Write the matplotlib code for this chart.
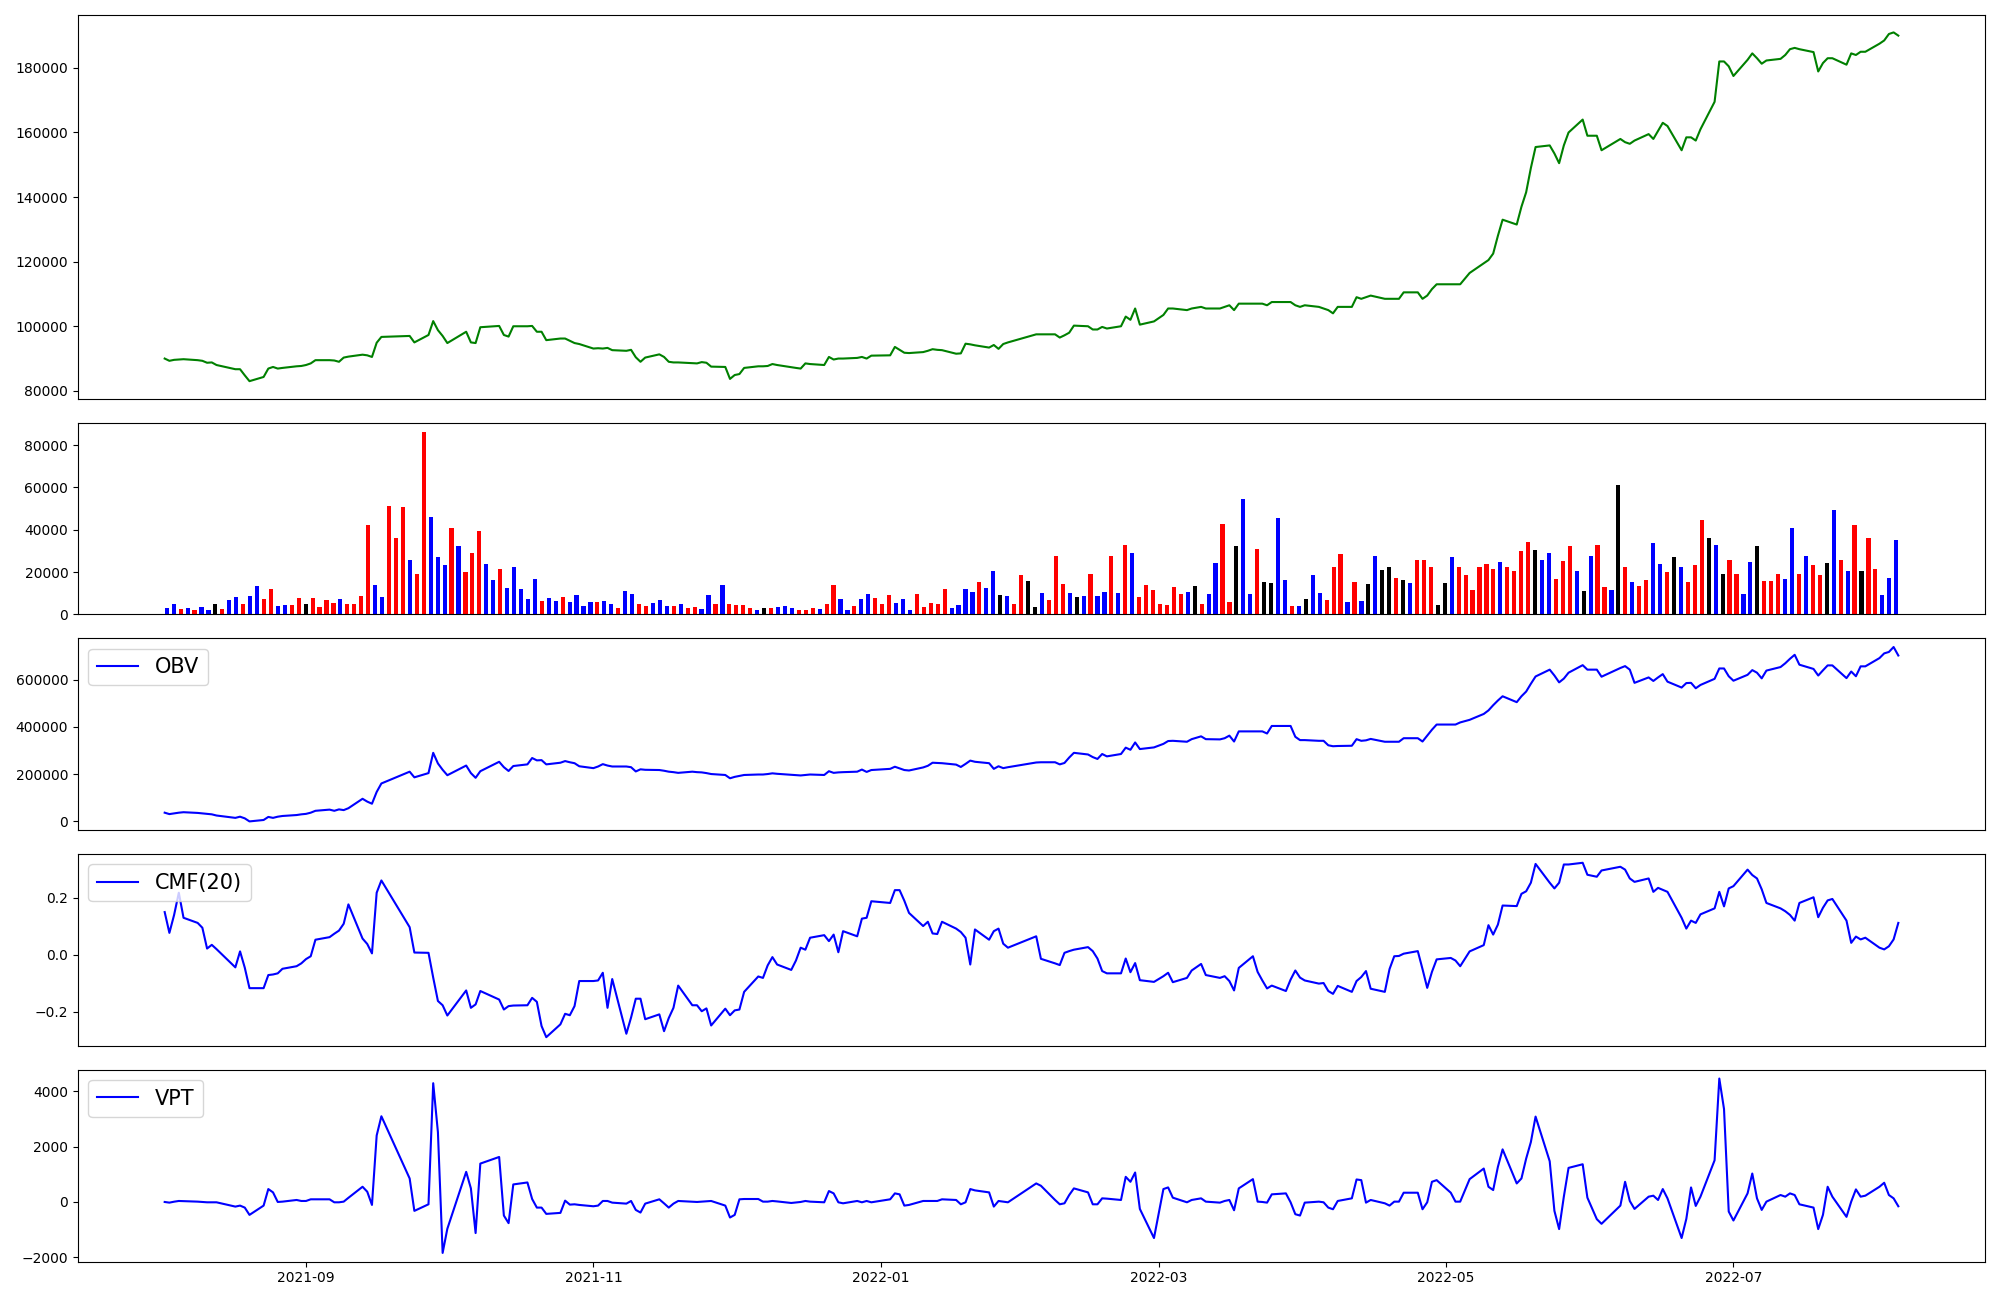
import pandas as pd
import numpy as np
import matplotlib
matplotlib.use('Agg')
import matplotlib.pyplot as plt
import matplotlib.dates as mdates

# trading days (KRX calendar) from 2021-08-02 to 2022-08-05
holidays = ['2021-08-16', '2021-09-20', '2021-09-21', '2021-09-22', '2021-10-04',
            '2021-10-11', '2021-12-31', '2022-01-31', '2022-02-01', '2022-02-02',
            '2022-03-01', '2022-03-09', '2022-05-05', '2022-06-01', '2022-06-06']
days = pd.bdate_range('2021-08-02', '2022-08-05')
days = days[~days.isin(pd.to_datetime(holidays))]

close = [90000, 89300, 89600, 89700, 89800, 89500, 89300, 88700, 88800, 88000,
         86700, 86700, 84800, 83000, 84300, 86900, 87400, 86900, 87100, 87600,
         87700, 88000, 88500, 89500, 89500, 89400, 89000, 90300, 90600, 91200,
         91000, 90500, 94900, 96700, 97000, 95000, 97300, 101600, 98800, 97000,
         94800, 98300, 95000, 94800, 99700, 100100, 97300, 96800, 100000, 100000,
         100100, 98300, 98300, 95700, 96200, 96200, 95500, 94800, 94500, 93100,
         93200, 93100, 93300, 92600, 92400, 92700, 90400, 89000, 90300, 91300,
         90500, 89000, 88800, 88800, 88600, 88500, 88900, 88700, 87500, 87400,
         83700, 84900, 85200, 87100, 87600, 87600, 87700, 88300, 88000, 87300,
         87100, 86900, 88500, 88300, 88000, 90500, 89700, 90000, 90000, 90200,
         90500, 90000, 90900, 91000, 93600, 92700, 91800, 91700, 92000, 92400,
         92900, 92700, 92600, 91500, 91600, 94600, 94400, 94100, 93400, 94200,
         93000, 94500, 95000, 97500, 97500, 97500, 96500, 97200, 98000, 100200,
         100000, 99000, 99000, 99800, 99300, 100000, 103000, 102000, 105500, 100500,
         101500, 103500, 105500, 105500, 105000, 105500, 106000, 105500, 105500, 106000,
         106500, 105000, 107000, 107000, 107000, 107000, 106500, 107500, 107500, 107500,
         106500, 106000, 106500, 106000, 105500, 105000, 104000, 106000, 106000, 109000,
         108500, 109000, 109500, 108500, 108500, 108500, 108500, 110500, 110500, 108500,
         109500, 111500, 113000, 113000, 113000, 113000, 116500, 119500, 120500, 122500,
         128000, 133000, 131500, 137000, 141500, 149000, 155500, 156000, 153500, 150500,
         156000, 160000, 164000, 159000, 159000, 154500, 158000, 157000, 156500, 157500,
         159500, 158000, 160500, 163000, 162000, 154500, 158500, 158500, 157500, 161000,
         169500, 182000, 182000, 180500, 177500, 182500, 184500, 183000, 181300, 182300,
         182800, 184000, 185800, 186200, 185800, 184900, 178900, 181500, 183000, 183000,
         181000, 184500, 184000, 185000, 185000, 187500, 188500, 190500, 191000, 190000]

volume = [2800, 4700, 2400, 2800, 1900, 3300, 1900, 4700, 2400, 6600,
          8000, 4700, 8500, 13200, 7100, 11800, 3800, 4200, 4200, 7500,
          4700, 7500, 3300, 6600, 5200, 7100, 4700, 4700, 8500, 42000,
          13700, 8000, 51400, 36300, 50900, 25900, 18900, 86300, 45800, 26900,
          23100, 41000, 32100, 19800, 28800, 39200, 23600, 16000, 21200, 12300,
          22600, 11800, 7100, 16500, 6100, 7500, 6100, 8000, 5700, 9000,
          3800, 5700, 5700, 6100, 4700, 2800, 10800, 9400, 4700, 3800,
          5200, 6600, 3800, 3800, 4700, 2800, 3300, 2400, 9000, 4700,
          13700, 4700, 4200, 4200, 2800, 1900, 2800, 2800, 3300, 3800,
          2800, 1900, 1900, 2800, 2400, 4700, 13700, 7100, 1900, 3800,
          7100, 9400, 7500, 4700, 9000, 5200, 7100, 1900, 9400, 3300,
          5200, 4700, 11800, 2800, 4200, 11800, 10400, 15100, 12300, 20300,
          9000, 8500, 4700, 18400, 15600, 3300, 9900, 6600, 27400, 14200,
          9900, 8000, 8500, 18900, 8500, 10400, 27800, 9900, 33000, 28800,
          8000, 13700, 11300, 4700, 4200, 12700, 9400, 10400, 13200, 4700,
          9400, 24100, 42900, 5700, 32500, 54700, 9400, 30700, 15100, 14600,
          45300, 16000, 3800, 3800, 7100, 18400, 9900, 6600, 22200, 28300,
          5700, 15100, 6100, 14200, 27800, 20800, 22600, 17000, 16000, 14600,
          25900, 25900, 22200, 4200, 14600, 26900, 22600, 18400, 11300, 22600,
          23600, 21200, 24500, 22200, 20300, 29700, 34400, 30200, 25900, 29200,
          16500, 25000, 32100, 20300, 10800, 27800, 33000, 12700, 11300, 61300,
          22600, 15100, 13200, 16000, 33500, 23600, 19800, 26900, 22600, 15100,
          23100, 44800, 36300, 33000, 18900, 25500, 19300, 9400, 24500, 32500,
          15600, 15600, 18900, 16500, 41000, 19300, 27400, 23100, 18400, 24100,
          49500, 25900, 20300, 42000, 20300, 36300, 21200, 9000, 17000, 34900]

# r = up day, b = down day, k = unchanged
bar_colors = list('bbrbrbbkrb' 'brbbrrbbrr' 'krrrrbrrrr' 'bbrrrbrrbb' 'brbrrrbbrb'
                  'bbbbrbbrbb' 'bbrbbrbbrr' 'bbbrbrrbbr' 'brrrrbkrbb' 'brrrbrrbbr'
                  'bbrrrbbbrr' 'rrrbbbbrbb' 'kbrrkkbrrr' 'bkbrbbrbrb' 'rrrrrrrbkr'
                  'bbrrkbbrkk' 'bbrbkbbrrr' 'brbkbkkrkb' 'rrrkkbrrrr' 'rrbrrrrkbb'
                  'rrrbkbrrbk' 'rbrrbbrkbr' 'rrkbkrrbbk' 'rrrbbrbrrk' 'brbrkrrbbb')

obv = [36000, 30000, 33000, 36000, 38000, 35000, 33000, 31000, 29000, 24000,
       14000, 19000, 12000, -1000, 5000, 18000, 14000, 19000, 22000, 26000,
       29000, 31000, 36000, 44000, 49000, 44000, 50000, 47000, 55000, 95000,
       83000, 74000, 124000, 160000, 210000, 186000, 204000, 290000, 245000, 218000,
       195000, 236000, 204000, 184000, 212000, 252000, 229000, 213000, 234000, 241000,
       268000, 258000, 259000, 241000, 248000, 255000, 250000, 246000, 233000, 225000,
       232000, 242000, 236000, 232000, 232000, 229000, 211000, 220000, 218000, 217000,
       214000, 210000, 208000, 205000, 210000, 208000, 207000, 204000, 200000, 196000,
       182000, 188000, 192000, 196000, 198000, 198000, 200000, 203000, 201000, 197000,
       196000, 194000, 196000, 198000, 196000, 212000, 205000, 207000, 208000, 210000,
       219000, 209000, 217000, 222000, 231000, 224000, 217000, 215000, 228000, 235000,
       248000, 247000, 246000, 240000, 230000, 243000, 257000, 252000, 246000, 222000,
       233000, 225000, 229000, 249000, 250000, 250000, 241000, 247000, 270000, 290000,
       283000, 272000, 264000, 285000, 275000, 285000, 312000, 303000, 334000, 306000,
       313000, 328000, 340000, 341000, 337000, 348000, 360000, 348000, 347000, 352000,
       363000, 338000, 381000, 381000, 381000, 381000, 372000, 404000, 404000, 404000,
       358000, 344000, 344000, 341000, 341000, 322000, 318000, 319000, 320000, 348000,
       341000, 343000, 349000, 337000, 337000, 337000, 337000, 352000, 352000, 338000,
       363000, 388000, 410000, 410000, 410000, 419000, 430000, 455000, 470000, 492000,
       512000, 530000, 505000, 530000, 550000, 583000, 614000, 643000, 618000, 589000,
       605000, 630000, 662000, 643000, 643000, 613000, 650000, 658000, 643000, 587000,
       610000, 595000, 610000, 624000, 592000, 567000, 586000, 587000, 564000, 578000,
       604000, 648000, 648000, 615000, 596000, 621000, 641000, 630000, 606000, 639000,
       654000, 670000, 689000, 706000, 664000, 646000, 618000, 640000, 661000, 661000,
       607000, 635000, 615000, 657000, 657000, 692000, 712000, 718000, 739000, 703000]

cmf = [0.150, 0.077, 0.140, 0.218, 0.130, 0.112, 0.095, 0.022, 0.035, 0.020,
       -0.044, 0.012, -0.045, -0.117, -0.117, -0.071, -0.069, -0.065, -0.049, -0.040,
       -0.030, -0.015, -0.005, 0.053, 0.062, 0.074, 0.085, 0.109, 0.177, 0.057,
       0.038, 0.005, 0.218, 0.261, 0.097, 0.008, 0.007, -0.080, -0.162, -0.177,
       -0.213, -0.125, -0.186, -0.174, -0.127, -0.157, -0.192, -0.180, -0.178, -0.177,
       -0.151, -0.165, -0.250, -0.289, -0.244, -0.207, -0.212, -0.180, -0.092, -0.092,
       -0.090, -0.063, -0.186, -0.085, -0.277, -0.220, -0.154, -0.154, -0.226, -0.209,
       -0.268, -0.222, -0.186, -0.108, -0.177, -0.177, -0.198, -0.188, -0.248, -0.189,
       -0.212, -0.195, -0.192, -0.130, -0.076, -0.081, -0.037, -0.008, -0.034, -0.053,
       -0.020, 0.025, 0.018, 0.060, 0.069, 0.048, 0.071, 0.009, 0.083, 0.065,
       0.127, 0.130, 0.188, 0.182, 0.227, 0.227, 0.190, 0.147, 0.101, 0.116,
       0.075, 0.073, 0.116, 0.092, 0.080, 0.060, -0.034, 0.089, 0.053, 0.083,
       0.092, 0.039, 0.025, 0.065, -0.014, -0.030, -0.036, 0.007, 0.013, 0.018,
       0.027, 0.013, -0.013, -0.057, -0.065, -0.065, -0.013, -0.061, -0.029, -0.089,
       -0.095, -0.075, -0.063, -0.096, -0.081, -0.055, -0.032, -0.071, -0.081, -0.075,
       -0.092, -0.125, -0.046, -0.005, -0.060, -0.090, -0.118, -0.108, -0.127, -0.087,
       -0.055, -0.080, -0.090, -0.101, -0.099, -0.127, -0.137, -0.109, -0.130, -0.092,
       -0.078, -0.057, -0.119, -0.130, -0.050, -0.005, -0.004, 0.004, 0.013, -0.050,
       -0.116, -0.060, -0.016, -0.011, -0.020, -0.040, 0.012, 0.034, 0.104, 0.071,
       0.106, 0.173, 0.171, 0.214, 0.223, 0.253, 0.319, 0.253, 0.233, 0.253,
       0.317, 0.317, 0.323, 0.281, 0.274, 0.296, 0.309, 0.299, 0.268, 0.256,
       0.268, 0.221, 0.235, 0.228, 0.221, 0.130, 0.092, 0.120, 0.112, 0.142,
       0.163, 0.221, 0.170, 0.233, 0.241, 0.299, 0.280, 0.268, 0.230, 0.182,
       0.163, 0.153, 0.140, 0.120, 0.182, 0.202, 0.132, 0.165, 0.191, 0.196,
       0.120, 0.042, 0.064, 0.054, 0.060, 0.025, 0.019, 0.030, 0.054, 0.112]

vpt = [0, -24, 10, 36, 30, 12, 0, -12, -12, -12,
       -167, -131, -203, -466, -131, 466, 346, 0, 12, 72,
       36, 36, 96, 96, 96, -12, -12, 12, 150, 549,
       370, -107, 2400, 3093, 848, -322, -84, 4286, 2519, -1839,
       -967, 1087, 490, -1122, 1385, 1624, -490, -764, 633, 704,
       107, -203, -203, -430, -394, 48, -96, -84, -107, -155,
       -131, 36, 36, -24, -60, 36, -287, -382, -60, 96,
       -50, -203, -60, 36, 12, 0, 12, 24, 36, -131,
       -561, -466, 96, 107, 107, 12, 12, 36, 20, -36,
       -20, 0, 36, 12, -12, 394, 310, -12, -48, 36,
       -12, 36, -12, 96, 310, 275, -131, -107, 36, 36,
       36, 36, 96, 72, -84, -12, 466, 418, 346, -167,
       36, 12, -12, 669, 585, 72, -84, -48, 250, 490,
       346, -84, -84, 131, 120, 72, 907, 728, 1063, -251,
       -1301, 466, 525, 155, -12, 72, 131, 12, -24, 36,
       72, -299, 490, 824, 12, 0, -24, 275, 310, -12,
       -442, -490, -24, 12, -12, -203, -263, 36, 131, 812,
       788, -24, 72, -48, -131, 12, 12, 334, 334, -263,
       -12, 728, 788, 334, 12, 12, 824, 1206, 549, 430,
       1266, 1898, 669, 848, 1564, 2161, 3081, 1469, -322, -979,
       191, 1230, 1361, 155, -621, -788, -131, 728, 36, -251,
       191, 227, 72, 466, 131, -1301, -609, 525, -143, 191,
       1504, 4454, 3355, -346, -669, 310, 1027, 131, -287, 12,
       251, 191, 310, 251, -84, -203, -979, -466, 549, 191,
       -537, 12, 454, 191, 227, 549, 693, 251, 131, -155]

fig = plt.figure(figsize=(20, 13), dpi=100)
gs = fig.add_gridspec(5, 1, height_ratios=[2, 1, 1, 1, 1], left=0.039, right=0.9925,
                      top=0.9885, bottom=0.0295, hspace=0.104)

# price
ax1 = fig.add_subplot(gs[0])
ax1.plot(days, close, 'g')
ax1.set_xticks([])

# volume, one bar per trading day
ax2 = fig.add_subplot(gs[1])
ax2.bar(np.arange(len(volume)), volume, width=0.6, color=bar_colors)
ax2.set_xticks([])

# on balance volume
ax3 = fig.add_subplot(gs[2])
ax3.plot(days, obv, 'b', label='OBV')
ax3.legend(loc='upper left', fontsize=15)
ax3.set_xticks([])

# chaikin money flow
ax4 = fig.add_subplot(gs[3])
ax4.plot(days, cmf, 'b', label='CMF(20)')
ax4.legend(loc='upper left', fontsize=15)
ax4.set_xticks([])

# volume price trend
ax5 = fig.add_subplot(gs[4])
ax5.plot(days, vpt, 'b', label='VPT')
ax5.legend(loc='upper left', fontsize=15)
ax5.xaxis.set_major_locator(mdates.MonthLocator(bymonth=[1, 3, 5, 7, 9, 11]))
ax5.xaxis.set_major_formatter(mdates.DateFormatter('%Y-%m'))

plt.savefig('out.png')
